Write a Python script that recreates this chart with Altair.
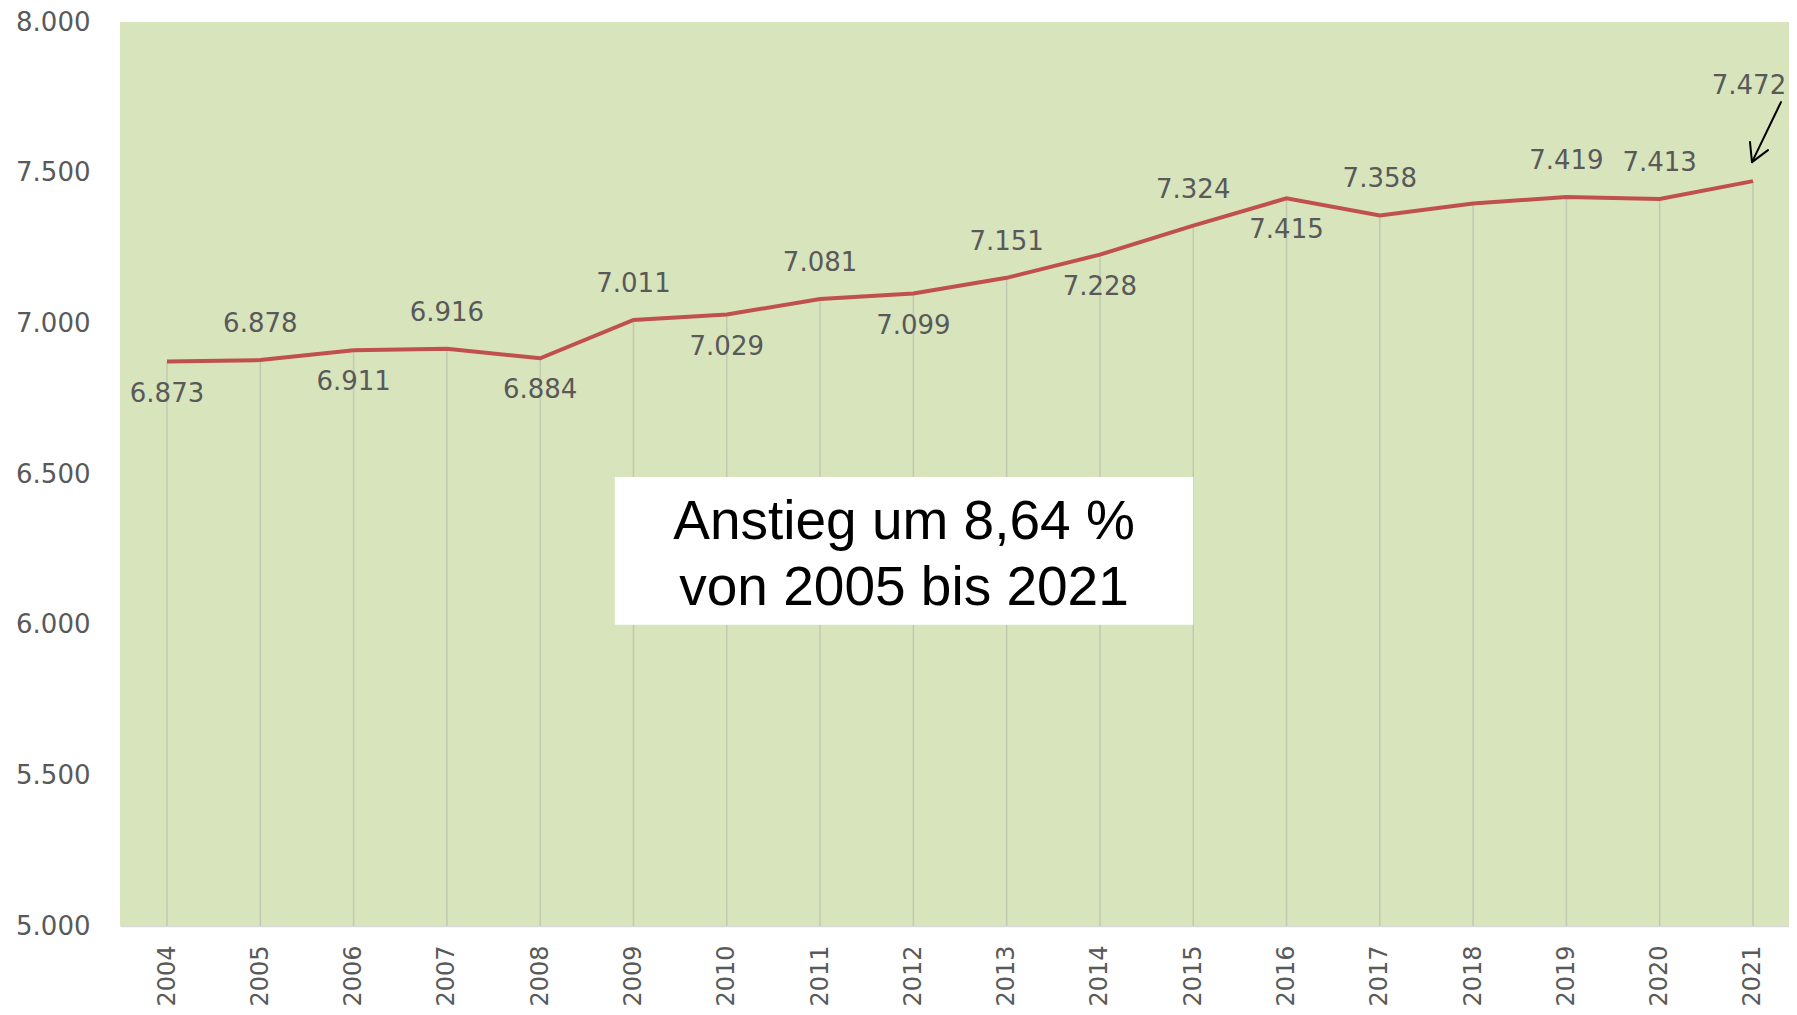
import altair as alt
import pandas as pd

# ---- data ----
years = list(range(2004, 2022))
values = [6873, 6878, 6911, 6916, 6884, 7011, 7029, 7081, 7099, 7151,
          7228, 7324, 7415, 7358, 7398, 7419, 7413, 7472]
# where each data label sits relative to its point ("none" = no label)
label_place = ["below", "above", "below", "above", "below", "above",
               "below", "above", "below", "above", "below", "above",
               "below", "above", "none", "above", "above", "arrow"]
y_ticks = [5000, 5500, 6000, 6500, 7000, 7500, 8000]
note_lines = ["Anstieg um 8,64 %", "von 2005 bis 2021"]
note_box_years = [2008.8, 2015.0]
note_box_values = [6000, 6490]

df = pd.DataFrame({"year": years, "value": values, "place": label_place})
note_df = pd.DataFrame({
    "year": [note_box_years[0]], "year2": [note_box_years[1]],
    "value": [note_box_values[0]], "value2": [note_box_values[1]],
    "cx": [sum(note_box_years) / 2], "cy": [sum(note_box_values) / 2],
})

FONT = "DejaVu Sans"
GREY = "#595959"

x_scale = alt.Scale(domain=[2003.496, 2021.386], nice=False, zero=False)
y_scale = alt.Scale(domain=[5000, 8000], nice=False, zero=False)

x_enc = alt.X(
    "year:Q", scale=x_scale, title=None,
    axis=alt.Axis(values=years, format="d", labelAngle=-90, ticks=False, tickSize=0,
                  grid=False, domain=True, domainColor="#d9d9d9", domainWidth=1.5,
                  labelFont=FONT, labelFontSize=24, labelColor=GREY, labelPadding=19,
                  labelOverlap=False),
)
y_enc = alt.Y(
    "value:Q", scale=y_scale, title=None,
    axis=alt.Axis(values=y_ticks, ticks=False, tickSize=0, grid=False, domain=False,
                  labelExpr="replace(format(datum.value, ',d'), ',', '.')",
                  labelFont=FONT, labelFontSize=26, labelColor=GREY, labelPadding=30),
)

base = alt.Chart(df).transform_calculate(
    lbl="replace(format(datum.value, ','), ',', '.')"
)

drops = base.mark_rule(color="#c3c9b0", strokeWidth=1.5).encode(
    x=x_enc, y=y_enc, y2=alt.datum(5000)
)

box = alt.Chart(note_df).mark_rect(color="white").encode(
    x=x_enc, x2="year2:Q", y=y_enc, y2="value2:Q"
)
box_text = alt.Chart(note_df).mark_text(
    text=note_lines, font="Liberation Sans", fontSize=55, lineHeight=66,
    color="black", align="center", baseline="middle", dy=-29
).encode(
    x=alt.X("cx:Q", scale=x_scale, title=None),
    y=alt.Y("cy:Q", scale=y_scale, title=None),
)

line = base.mark_line(color="#c0504d", strokeWidth=4).encode(x=x_enc, y=y_enc)

txt_kw = dict(font=FONT, fontSize=26, color=GREY, align="center", baseline="middle")
above = base.transform_filter("datum.place == 'above'").mark_text(dy=-36, **txt_kw).encode(
    x=x_enc, y=y_enc, text="lbl:N")
below = base.transform_filter("datum.place == 'below'").mark_text(dy=32, **txt_kw).encode(
    x=x_enc, y=y_enc, text="lbl:N")
arrow_lbl = base.transform_filter("datum.place == 'arrow'").mark_text(dx=-4, dy=-95, **txt_kw).encode(
    x=x_enc, y=y_enc, text="lbl:N")

arrow_src = base.transform_filter("datum.place == 'arrow'")
rule_kw = dict(color="black", strokeWidth=2, strokeCap="round")
shaft = arrow_src.mark_rule(xOffset=28, yOffset=-79, x2Offset=-1, y2Offset=-19, **rule_kw).encode(
    x=x_enc, y=y_enc, x2="year:Q", y2="value:Q")
wing1 = arrow_src.mark_rule(xOffset=-1, yOffset=-19, x2Offset=15, y2Offset=-31, **rule_kw).encode(
    x=x_enc, y=y_enc, x2="year:Q", y2="value:Q")
wing2 = arrow_src.mark_rule(xOffset=-1, yOffset=-19, x2Offset=-3, y2Offset=-39, **rule_kw).encode(
    x=x_enc, y=y_enc, x2="year:Q", y2="value:Q")

chart = alt.layer(
    drops, box, box_text, line, above, below, arrow_lbl, shaft, wing1, wing2
).properties(
    width=1669, height=904,
    background="white",
    padding={"left": 112, "top": 14, "right": 0, "bottom": 81},
    autosize=alt.AutoSizeParams(type="none"),
).configure_view(
    fill="#d8e4bc", stroke=None
)

chart.save("out.html", embed_options={"renderer": "svg", "actions": False})
